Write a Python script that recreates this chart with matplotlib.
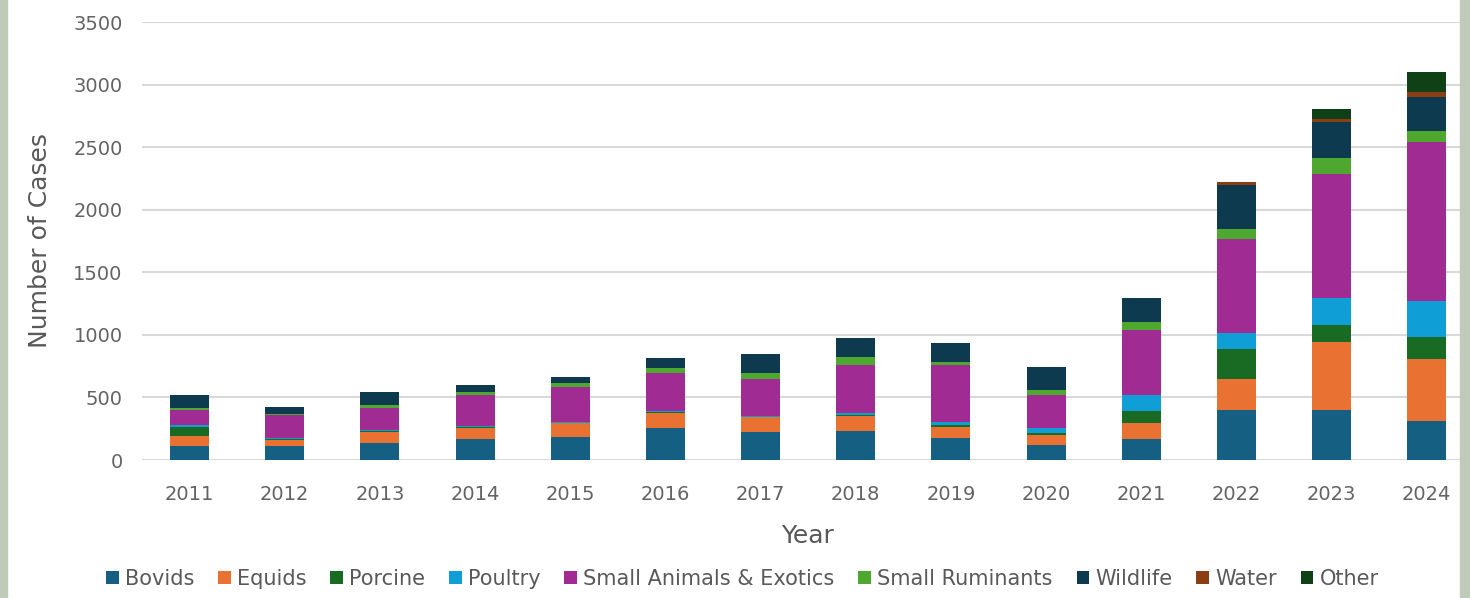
import numpy as np
import matplotlib
matplotlib.use("Agg")
import matplotlib.pyplot as plt
from matplotlib.patches import Rectangle

years = ["2011", "2012", "2013", "2014", "2015", "2016", "2017",
         "2018", "2019", "2020", "2021", "2022", "2023", "2024"]

bovids = [115, 112, 138, 168, 181, 258, 221, 234, 178, 120, 165, 400, 400, 310]
equids = [75, 50, 88, 90, 112, 115, 120, 118, 88, 80, 133, 247, 545, 497]
porcine = [75, 5, 5, 5, 5, 8, 5, 8, 15, 18, 94, 240, 134, 179]
poultry = [12, 5, 8, 8, 8, 12, 8, 12, 25, 35, 127, 125, 213, 287]
small_animals = [123, 188, 174, 248, 280, 300, 291, 387, 453, 266, 520, 751, 991, 1266]
small_ruminants = [13, 10, 27, 21, 27, 40, 48, 67, 27, 40, 61, 83, 128, 93]
wildlife = [105, 56, 101, 59, 53, 85, 152, 151, 146, 187, 192, 351, 293, 271]
water = [0, 0, 0, 0, 0, 0, 0, 0, 0, 0, 0, 22, 21, 40]
other = [0, 0, 0, 0, 0, 0, 0, 0, 0, 0, 0, 0, 80, 160]

series = [
    ("Bovids", bovids, "#156082"),
    ("Equids", equids, "#e97132"),
    ("Porcine", porcine, "#196b24"),
    ("Poultry", poultry, "#0f9ed5"),
    ("Small Animals & Exotics", small_animals, "#a02b93"),
    ("Small Ruminants", small_ruminants, "#4ea72e"),
    ("Wildlife", wildlife, "#0d3a4e"),
    ("Water", water, "#8b3e14"),
    ("Other", other, "#0f4016"),
]

fig = plt.figure(figsize=(14.7, 5.98), dpi=100)
ax = fig.add_axes([142 / 1470, 1 - 460 / 598, (1460 - 142) / 1470, 438 / 598])

x = np.arange(len(years))
bottom = np.zeros(len(years))
for name, vals, col in series:
    ax.bar(x, vals, width=0.41, bottom=bottom, color=col, label=name, zorder=3)
    bottom += np.array(vals)

ax.set_ylim(0, 3500)
ax.set_xlim(-0.5, 13.35)
ax.set_yticks(np.arange(0, 3501, 500))
ax.set_xticks(x)
ax.set_xticklabels(years)
ax.grid(axis="y", color="#d9d9d9", linewidth=1.5, zorder=0)
for s in ["top", "right", "left", "bottom"]:
    ax.spines[s].set_visible(False)
ax.tick_params(axis="both", length=0, labelsize=14, labelcolor="#636363")
ax.tick_params(axis="y", pad=14)
ax.tick_params(axis="x", pad=18)

ax.set_ylabel("Number of Cases", fontsize=18, color="#595959")
ax.yaxis.set_label_coords(-0.068, 0.5)
ax.set_xlabel("Year", fontsize=18, color="#595959")
ax.xaxis.set_label_coords(0.505, -0.145)

fig.legend(loc="center", bbox_to_anchor=(0.505, 0.032), ncol=9, frameon=False,
           fontsize=15, labelcolor="#595959", handlelength=0.6, handleheight=0.6,
           handletextpad=0.3, columnspacing=1.15)

# grey-green frame strips at the sides
fig.patches.append(Rectangle((0, 0), 7 / 1470, 1, transform=fig.transFigure,
                             color="#bfcab9", zorder=10))
fig.patches.append(Rectangle((1460 / 1470, 0), 10 / 1470, 1, transform=fig.transFigure,
                             color="#bfcab9", zorder=10))

fig.savefig("out.png", dpi=100)
